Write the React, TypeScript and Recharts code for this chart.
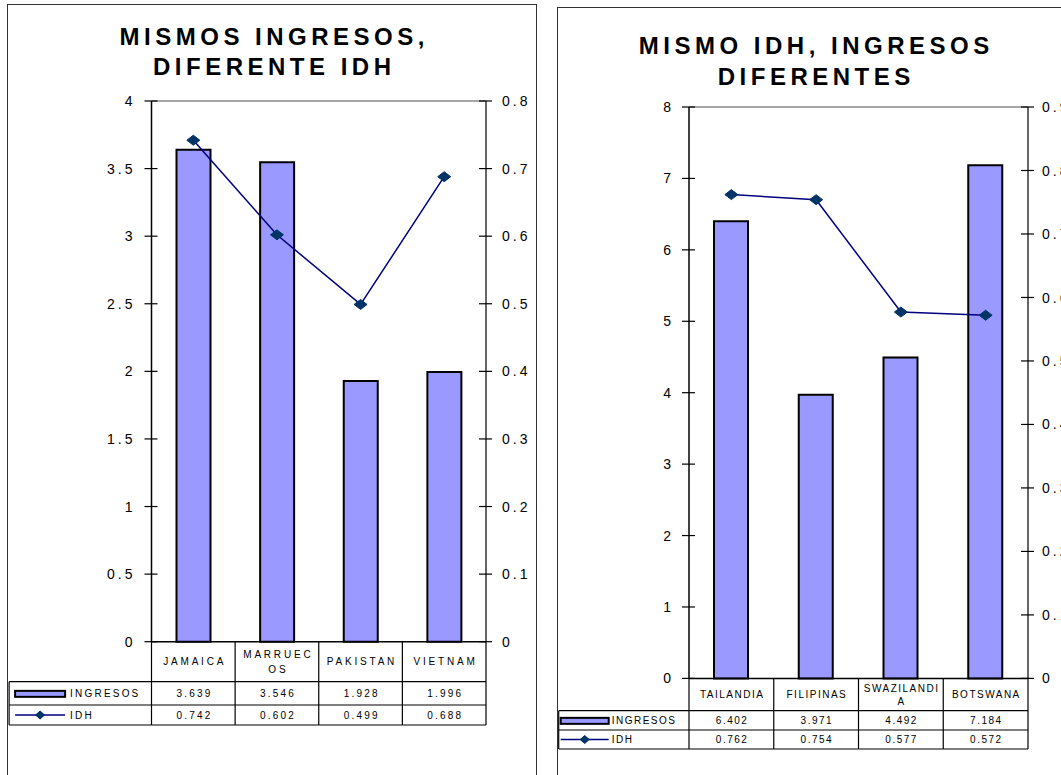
import React from "react";
import { ComposedChart, Bar, Line, XAxis, YAxis, ReferenceLine } from "recharts";

const FONT = "'Liberation Sans', Arial, Helvetica, sans-serif";

// panel izquierdo
const paisesA = ["JAMAICA", "MARRUECOS", "PAKISTAN", "VIETNAM"];
const etiquetasA = ["JAMAICA", "MARRUEC\nOS", "PAKISTAN", "VIETNAM"];
const ingresosA = [3.639, 3.546, 1.928, 1.996];
const idhA = [0.742, 0.602, 0.499, 0.688];
const ticksIngresosA = [0, 0.5, 1, 1.5, 2, 2.5, 3, 3.5, 4];
const ticksIdhA = [0, 0.1, 0.2, 0.3, 0.4, 0.5, 0.6, 0.7, 0.8];
const tituloA = ["MISMOS INGRESOS,", "DIFERENTE IDH"];

// panel derecho
const paisesB = ["TAILANDIA", "FILIPINAS", "SWAZILANDIA", "BOTSWANA"];
const etiquetasB = ["TAILANDIA", "FILIPINAS", "SWAZILANDI\nA", "BOTSWANA"];
const ingresosB = [6.402, 3.971, 4.492, 7.184];
const idhB = [0.762, 0.754, 0.577, 0.572];
const ticksIngresosB = [0, 1, 2, 3, 4, 5, 6, 7, 8];
const ticksIdhB = [0, 0.1, 0.2, 0.3, 0.4, 0.5, 0.6, 0.7, 0.8, 0.9];
const tituloB = ["MISMO IDH, INGRESOS", "DIFERENTES"];

const serieBarras = "INGRESOS";
const serieLinea = "IDH";

type Cfg = {
  frame: { left: number; top: number; width: number };
  titleX: number;
  titleTop: number;
  titleLH: number;
  left: number;
  top: number;
  width: number;
  height: number;
  yW: number;
  yWR: number;
  mTop: number;
  mBottom: number;
  catH: number;
  row1: number;
  row2: number;
  legendW: number;
  swX: number;
  swW: number;
  swGap: number;
  catLS: number;
  valLS: number;
  catLH: number;
  gapL: number;
  gapR: number;
};

const cfgA: Cfg = {
  frame: { left: 7, top: 4, width: 530 },
  titleX: 272,
  titleTop: 22,
  titleLH: 30,
  left: 8,
  top: 90,
  width: 528,
  height: 645,
  yW: 143.5,
  yWR: 50,
  mTop: 11,
  mBottom: 10,
  catH: 40,
  row1: 23.3,
  row2: 20,
  legendW: 142.4,
  swX: 6,
  swW: 50,
  swGap: 5,
  catLS: 2.8,
  valLS: 2.2,
  catLH: 15,
  gapL: 16,
  gapR: 16,
};

const cfgB: Cfg = {
  frame: { left: 557, top: 7, width: 560 },
  titleX: 814,
  titleTop: 30,
  titleLH: 31,
  left: 558,
  top: 97,
  width: 520,
  height: 662,
  yW: 131,
  yWR: 50,
  mTop: 10,
  mBottom: 10,
  catH: 32.3,
  row1: 19.3,
  row2: 19,
  legendW: 130.3,
  swX: 2,
  swW: 48,
  swGap: 3,
  catLS: 1.5,
  valLS: 1.5,
  catLH: 13,
  gapL: 15,
  gapR: 14,
};

const Diamond = (p: any) => {
  const { cx, cy, w = 6.5, h = 5 } = p;
  if (cx == null || cy == null) return <g />;
  return (
    <path
      d={`M${cx - w},${cy} L${cx},${cy - h} L${cx + w},${cy} L${cx},${cy + h} Z`}
      fill="#003366"
      stroke="#003366"
      strokeWidth={1}
    />
  );
};

const YTick = (p: any) => {
  const { x, y, payload, side, gap } = p;
  const isLeft = side === "left";
  return (
    <g>
      <line x1={x - 7} x2={x + 6} y1={y} y2={y} stroke="#000" strokeWidth={1.2} />
      <text
        x={isLeft ? x - gap : x + gap}
        y={y}
        dy="0.36em"
        textAnchor={isLeft ? "end" : "start"}
        fontFamily={FONT}
        fontSize={14}
        letterSpacing={3}
        fill="#000"
      >
        {String(payload.value)}
      </text>
    </g>
  );
};

const ColTick = (p: any) => {
  const { x, y, payload, cfg, labels, bars, line } = p;
  const c: Cfg = cfg;
  const i = payload.index;
  const half = payload.offset || 42;
  const l = x - half;
  const r = x + half;
  const y1 = y + c.catH;
  const y2 = y1 + c.row1;
  const y3 = y2 + c.row2;
  const rows: string[] = labels[i].split("\n");
  const cy = y + c.catH / 2;
  const st = { stroke: "#000", strokeWidth: 1.2 };
  const txt = { fontFamily: FONT, fontSize: 10, fill: "#000" };
  const lx = l - c.legendW;
  const sx = lx + c.swX;
  return (
    <g>
      <line x1={l} x2={l} y1={y} y2={y3} {...st} />
      {i === labels.length - 1 && <line x1={r} x2={r} y1={y} y2={y3} {...st} />}
      <line x1={l} x2={r} y1={y1} y2={y1} {...st} />
      <line x1={l} x2={r} y1={y2} y2={y2} {...st} />
      <line x1={l} x2={r} y1={y3} y2={y3} {...st} />
      {rows.map((s, k) => (
        <text
          key={k}
          x={x + c.catLS / 2}
          y={cy + (k - (rows.length - 1) / 2) * c.catLH}
          dy="0.36em"
          textAnchor="middle"
          letterSpacing={c.catLS}
          {...txt}
        >
          {s}
        </text>
      ))}
      <text x={x + c.valLS / 2} y={y1 + c.row1 / 2} dy="0.36em" textAnchor="middle" letterSpacing={c.valLS} {...txt}>
        {bars[i].toFixed(3)}
      </text>
      <text x={x + c.valLS / 2} y={y2 + c.row2 / 2} dy="0.36em" textAnchor="middle" letterSpacing={c.valLS} {...txt}>
        {line[i].toFixed(3)}
      </text>
      {i === 0 && (
        <g>
          <line x1={lx} x2={l} y1={y1} y2={y1} {...st} />
          <line x1={lx} x2={l} y1={y2} y2={y2} {...st} />
          <line x1={lx} x2={l} y1={y3} y2={y3} {...st} />
          <line x1={lx} x2={lx} y1={y1} y2={y3} {...st} />
          <rect x={sx} y={y1 + c.row1 / 2 - 2.5} width={c.swW} height={6} fill="#9999FF" stroke="#000" strokeWidth={2} />
          <text x={sx + c.swW + c.swGap} y={y1 + c.row1 / 2} dy="0.36em" letterSpacing={c.valLS} {...txt}>
            {serieBarras}
          </text>
          <line x1={sx} x2={sx + c.swW} y1={y2 + c.row2 / 2} y2={y2 + c.row2 / 2} stroke="#000080" strokeWidth={1.5} />
          <Diamond cx={sx + c.swW / 2} cy={y2 + c.row2 / 2} w={4.5} h={4} />
          <text x={sx + c.swW + c.swGap} y={y2 + c.row2 / 2} dy="0.36em" letterSpacing={c.valLS} {...txt}>
            {serieLinea}
          </text>
        </g>
      )}
    </g>
  );
};

type PanelProps = {
  cats: string[];
  labels: string[];
  bars: number[];
  line: number[];
  ticksL: number[];
  ticksR: number[];
  title: string[];
  cfg: Cfg;
};

const Panel = ({ cats, labels, bars, line, ticksL, ticksR, title, cfg }: PanelProps) => {
  const data = cats.map((name, i) => ({ name, ingresos: bars[i], idh: line[i] }));
  const maxL = ticksL[ticksL.length - 1];
  const maxR = ticksR[ticksR.length - 1];
  const tableH = cfg.catH + cfg.row1 + cfg.row2;
  return (
    <>
      <div
        style={{
          position: "absolute",
          left: cfg.frame.left,
          top: cfg.frame.top,
          width: cfg.frame.width,
          height: 900,
          border: "1.5px solid #333",
          boxSizing: "border-box",
        }}
      />
      <div
        style={{
          position: "absolute",
          left: cfg.titleX - 250,
          width: 500,
          top: cfg.titleTop,
          textAlign: "center",
          fontFamily: FONT,
          fontWeight: "bold",
          fontSize: 24,
          letterSpacing: 4.5,
          lineHeight: `${cfg.titleLH}px`,
          paddingLeft: 4.5,
          boxSizing: "border-box",
          color: "#000",
        }}
      >
        {title.map((t) => (
          <div key={t}>{t}</div>
        ))}
      </div>
      <div style={{ position: "absolute", left: cfg.left, top: cfg.top }}>
        <ComposedChart
          width={cfg.width}
          height={cfg.height}
          data={data}
          margin={{ top: cfg.mTop, right: 0, bottom: cfg.mBottom, left: 0 }}
        >
          <XAxis
            dataKey="name"
            height={tableH}
            interval={0}
            tickLine={false}
            tickSize={0}
            tickMargin={0}
            axisLine={{ stroke: "#000", strokeWidth: 1.5 }}
            tick={(p: any) => <ColTick {...p} cfg={cfg} labels={labels} bars={bars} line={line} />}
          />
          <YAxis
            yAxisId="l"
            width={cfg.yW}
            domain={[0, maxL]}
            ticks={ticksL}
            interval={0}
            tickLine={false}
            tickSize={0}
            tickMargin={0}
            axisLine={{ stroke: "#000", strokeWidth: 1.5 }}
            tick={(p: any) => <YTick {...p} side="left" gap={cfg.gapL} />}
          />
          <YAxis
            yAxisId="r"
            orientation="right"
            width={cfg.yWR}
            domain={[0, maxR]}
            ticks={ticksR}
            interval={0}
            tickLine={false}
            tickSize={0}
            tickMargin={0}
            axisLine={{ stroke: "#333", strokeWidth: 1.5 }}
            tick={(p: any) => <YTick {...p} side="right" gap={cfg.gapR} />}
          />
          <ReferenceLine yAxisId="l" y={maxL} stroke="#888" strokeWidth={1.5} />
          <Bar
            yAxisId="l"
            dataKey="ingresos"
            fill="#9999FF"
            stroke="#000"
            strokeWidth={2}
            barSize={34}
            isAnimationActive={false}
          />
          <Line
            yAxisId="r"
            type="linear"
            dataKey="idh"
            stroke="#000080"
            strokeWidth={1.5}
            dot={(d: any) => <Diamond key={`d${d.index}`} cx={d.cx} cy={d.cy} />}
            activeDot={false}
            isAnimationActive={false}
          />
        </ComposedChart>
      </div>
    </>
  );
};

export default function App() {
  return (
    <div
      style={{
        position: "absolute",
        left: 0,
        top: 0,
        width: 1061,
        height: 775,
        overflow: "hidden",
        background: "#fff",
      }}
    >
      <Panel
        cats={paisesA}
        labels={etiquetasA}
        bars={ingresosA}
        line={idhA}
        ticksL={ticksIngresosA}
        ticksR={ticksIdhA}
        title={tituloA}
        cfg={cfgA}
      />
      <Panel
        cats={paisesB}
        labels={etiquetasB}
        bars={ingresosB}
        line={idhB}
        ticksL={ticksIngresosB}
        ticksR={ticksIdhB}
        title={tituloB}
        cfg={cfgB}
      />
    </div>
  );
}
